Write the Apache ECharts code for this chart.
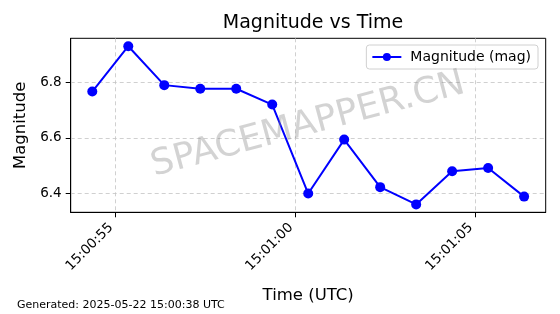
<!DOCTYPE html>
<html><head><meta charset="utf-8">
<script src="https://cdn.jsdelivr.net/npm/echarts@6/dist/echarts.min.js"></script>
<style>html,body{margin:0;padding:0;background:#fff}#c{width:560px;height:314px}</style>
</head><body><div id="c"></div>
<script>
const times = ['15:00:54.36','15:00:55.36','15:00:56.36','15:00:57.36','15:00:58.36','15:00:59.36','15:01:00.36','15:01:01.36','15:01:02.36','15:01:03.36','15:01:04.36','15:01:05.36','15:01:06.36'];
const magnitudes = [6.767, 6.930, 6.790, 6.777, 6.777, 6.720, 6.400, 6.594, 6.423, 6.361, 6.480, 6.492, 6.389];
const xTickLabels = ['15:00:55','15:01:00','15:01:05'];
const yTicks = [6.4, 6.6, 6.8];

function toSec(t){const p=t.split(':');return (+p[0])*3600+(+p[1])*60+(+p[2]);}
const base = toSec('15:00:00');
const xs = times.map(t=>toSec(t)-base);
const xTicks = xTickLabels.map(t=>toSec(t)-base);
const xmin0=Math.min(...xs), xmax0=Math.max(...xs);
const ymin0=Math.min(...magnitudes), ymax0=Math.max(...magnitudes);
const xpad=(xmax0-xmin0)*0.05, ypad=(ymax0-ymin0)*0.05;
function fmt(v){const s=Math.round(v)+base;const h=Math.floor(s/3600),m=Math.floor(s%3600/60),ss=s%60;const z=n=>String(n).padStart(2,'0');return z(h)+':'+z(m)+':'+z(ss);}

const FONT='DejaVu Sans';
const chart = echarts.init(document.getElementById('c'), null, {renderer:'canvas'});
chart.setOption({
  animation:false,
  textStyle:{fontFamily:FONT},
  title:{text:'Magnitude vs Time', left:308, top:9, textAlign:'center',
    textStyle:{fontFamily:FONT,fontSize:19,fontWeight:'normal',color:'#000'}},
  grid:{left:70.7,right:14.3,top:38.3,bottom:101.7,show:true,borderColor:'#000',borderWidth:1,backgroundColor:'transparent'},
  legend:{data:['Magnitude (mag)'], right:22, top:45, orient:'horizontal',
    itemWidth:29,itemHeight:10,itemGap:8,
    padding:[5,7,5,5], borderColor:'#d0d0d0', borderWidth:1, borderRadius:3, backgroundColor:'rgba(255,255,255,0.8)',
    textStyle:{fontFamily:FONT,fontSize:14,color:'#000',padding:[0,0,0,4]}},
  xAxis:{type:'value', min:xmin0-xpad, max:xmax0+xpad,
    name:'Time (UTC)', nameLocation:'middle', nameGap:75,
    nameTextStyle:{fontFamily:FONT,fontSize:16.5,color:'#000'},
    axisLine:{show:true,onZero:false,lineStyle:{color:'#000',width:1}},
    axisTick:{show:true,length:5,customValues:xTicks,lineStyle:{color:'#000'}},
    axisLabel:{customValues:xTicks,rotate:45,fontFamily:FONT,fontSize:13.5,color:'#000',margin:9,padding:[0,6,0,0],formatter:v=>fmt(v)},
    splitLine:{show:true,lineStyle:{color:'#c4c4c4',type:[4,3],width:0.8}}},
  yAxis:{type:'value', min:ymin0-ypad, max:ymax0+ypad,
    name:'Magnitude', nameLocation:'middle', nameGap:38, nameRotate:90,
    nameTextStyle:{fontFamily:FONT,fontSize:16.5,color:'#000'},
    axisLine:{show:true,onZero:false,lineStyle:{color:'#000',width:1}},
    axisTick:{show:true,length:5,customValues:yTicks,lineStyle:{color:'#000'}},
    axisLabel:{customValues:yTicks,fontFamily:FONT,fontSize:13.5,color:'#000',margin:9,formatter:v=>v.toFixed(1)},
    splitLine:{show:true,lineStyle:{color:'#c4c4c4',type:[4,3],width:0.8}}},
  graphic:[
    {type:'text', left:17, top:300, style:{text:'Generated: 2025-05-22 15:00:38 UTC', fontFamily:FONT, fontSize:11, fill:'#000'}},
    {type:'text', x:308, y:125, rotation:15*Math.PI/180, z:100,
      style:{text:'SPACEMAPPER.CN', fontFamily:FONT, fontSize:36, fill:'rgba(128,128,128,0.35)', align:'center', verticalAlign:'middle'}}
  ],
  series:[{name:'Magnitude (mag)', type:'line', data:xs.map((x,i)=>[x,magnitudes[i]]),
    symbol:'circle', symbolSize:10, showAllSymbol:true,
    lineStyle:{color:'#0000ff',width:2}, itemStyle:{color:'#0000ff'}}]
});
</script></body></html>
